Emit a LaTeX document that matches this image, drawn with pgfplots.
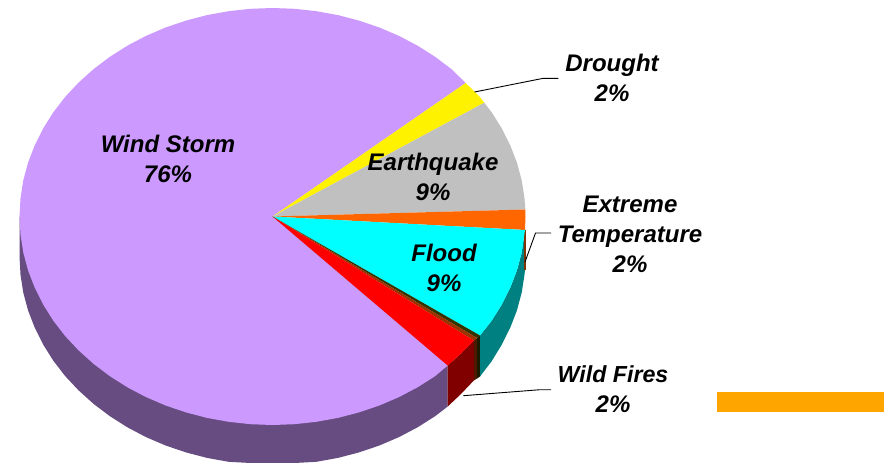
\documentclass[border=0pt]{standalone}
\usepackage{fontspec}
\setmainfont{Liberation Sans}
\usepackage{pgfplots}
\pgfplotsset{compat=1.18}

\definecolor{wind}{HTML}{CC99FF}
\definecolor{windside}{HTML}{664C80}
\definecolor{flood}{HTML}{00FFFF}
\definecolor{floodside}{HTML}{008080}
\definecolor{quake}{HTML}{C0C0C0}
\definecolor{temp}{HTML}{FF6600}
\definecolor{tempside}{HTML}{803300}
\definecolor{sliverA}{HTML}{333300}
\definecolor{sliverAside}{HTML}{1A1A00}
\definecolor{sliverB}{HTML}{993300}
\definecolor{sliverBside}{HTML}{4D1A00}
\definecolor{fire}{HTML}{FF0000}
\definecolor{fireside}{HTML}{800000}
\definecolor{bar}{HTML}{FFA500}

\tikzset{lab/.style={font=\fontsize{24}{30}\selectfont\bfseries\itshape, align=center, inner sep=0pt, anchor=center}}

\begin{document}
\begin{tikzpicture}
\begin{axis}[
    name=ax,
    scale only axis,
    width=884pt,
    height=463pt,
    xmin=0, xmax=884,
    ymin=0, ymax=463,
    y dir=reverse,
    hide axis,
]

% white frame, keeps the page at the full size
\addplot[fill=white, draw=none] coordinates {(0,0) (884,0) (884,463) (0,463)} -- cycle;

% side walls
\addplot[fill=windside, draw=none] coordinates {
    (272.5,216.5) (19.5,216.5) (19.5,256.5) (20.5,274.7) (23.3,292.7) (28.1,310.5) (34.8,327.8)
    (43.2,344.6) (53.4,360.8) (65.2,376.1) (78.7,390.5) (93.6,403.9) (109.9,416.2) (127.4,427.3)
    (146,437.1) (165.6,445.5) (186,452.4) (207,457.9) (228.6,461.8) (250.4,463) (294.6,463)
    (316.4,461.8) (338,457.9) (359,452.4) (379.4,445.5) (399,437.1) (417.6,427.3)
    (435.1,416.2) (447.7,406.5) (447.7,365.5)
} -- cycle;
\addplot[fill=fireside, draw=none] coordinates {
    (447.7,365.5) (461,353.5) (473.8,340.5) (473.8,380.5) (461,394) (447.7,406.5)
} -- cycle;
\addplot[fill=sliverBside, draw=none] coordinates {
    (473.8,340.5) (477,338) (477,378.5) (473.8,380.5)
} -- cycle;
\addplot[fill=sliverAside, draw=none] coordinates {
    (477,338) (480,335.5) (480,376.5) (477,378.5)
} -- cycle;
\addplot[fill=floodside, draw=none] coordinates {
    (480,335.5) (491.6,320.8) (501.8,304.6) (510.2,287.8) (516.9,270.5) (521.7,252.7) (525,230)
    (525,270) (524.5,274.7) (521.7,292.7) (516.9,310.5) (510.2,327.8) (501.8,344.6) (491.6,361.3) (480,376.5)
} -- cycle;
\addplot[fill=tempside, draw=none] coordinates {
    (523.8,230) (525.5,230) (525.5,270) (523.8,270)
} -- cycle;

% top faces
\addplot[fill=wind, draw=none] coordinates {
    (272.5,216.5) (465.7,83) (451.4,69.1) (435.1,56.8) (417.6,45.7) (399,35.9) (379.4,27.5)
    (359,20.6) (338,15.1) (316.4,11.2) (294.6,8.8) (272.5,8) (250.4,8.8) (228.6,11.2) (207,15.1)
    (186,20.6) (165.6,27.5) (146,35.9) (127.4,45.7) (109.9,56.8) (93.6,69.1) (78.7,82.5) (65.2,96.9)
    (53.4,112.2) (43.2,128.4) (34.8,145.2) (28.1,162.5) (23.3,180.3) (20.5,198.3) (19.5,216.5)
    (20.5,234.7) (23.3,252.7) (28.1,270.5) (34.8,287.8) (43.2,304.6) (53.4,320.8) (65.2,336.1)
    (78.7,350.5) (93.6,363.9) (109.9,376.2) (127.4,387.3) (146,397.1) (165.6,405.5) (186,412.4)
    (207,417.9) (228.6,421.8) (250.4,424.2) (272.5,425) (294.6,424.2) (316.4,421.8) (338,417.9)
    (359,412.4) (379.4,405.5) (399,397.1) (417.6,387.3) (435.1,376.2) (447.7,365.5)
} -- cycle;
\addplot[fill=yellow, draw=none] coordinates {
    (272.5,216.5) (484.3,102.7) (479.8,96.9) (465.7,83)
} -- cycle;
\addplot[fill=quake, draw=none] coordinates {
    (272.5,216.5) (525.3,209.5) (524.5,198.3) (521.7,180.3) (516.9,162.5) (510.2,145.2)
    (501.8,128.4) (491.6,112.2) (484.3,102.7)
} -- cycle;
\addplot[fill=temp, draw=none] coordinates {
    (272.5,216.5) (525,230) (525.5,216.5) (525.3,209.5)
} -- cycle;
\addplot[fill=flood, draw=none] coordinates {
    (272.5,216.5) (480,335.5) (491.6,320.8) (501.8,304.6) (510.2,287.8) (516.9,270.5) (521.7,252.7) (525,230)
} -- cycle;
\addplot[fill=sliverA, draw=none] coordinates {
    (272.5,216.5) (477,338) (480,335.5)
} -- cycle;
\addplot[fill=sliverB, draw=none] coordinates {
    (272.5,216.5) (473.8,340.5) (477,338)
} -- cycle;
\addplot[fill=fire, draw=none] coordinates {
    (272.5,216.5) (447.7,365.5) (461,353.5) (473.8,340.5)
} -- cycle;

% leader lines
\addplot[black, line width=0.9pt] coordinates {(474.5,92) (543.3,78.3) (558.3,78.3)};
\addplot[black, line width=0.9pt] coordinates {(525,262) (535.5,233) (551,233)};
\addplot[black, line width=0.9pt] coordinates {(463.3,395.7) (540,389.7) (551,389.7)};

% stray bar at lower right
\addplot[fill=bar, draw=none] coordinates {(717,392.3) (884,392.3) (884,411.7) (717,411.7)} -- cycle;

\node[lab] at (axis cs:168,158.5) {Wind Storm\\76\%};
\node[lab] at (axis cs:433,176.5) {Earthquake\\9\%};
\node[lab] at (axis cs:612,78) {Drought\\2\%};
\node[lab] at (axis cs:630,234.5) {Extreme\\Temperature\\2\%};
\node[lab] at (axis cs:444,268) {Flood\\9\%};
\node[lab] at (axis cs:613,389.5) {{\fontsize{23.2}{30}\selectfont Wild Fires}\\2\%};
\end{axis}
\end{tikzpicture}
\end{document}
